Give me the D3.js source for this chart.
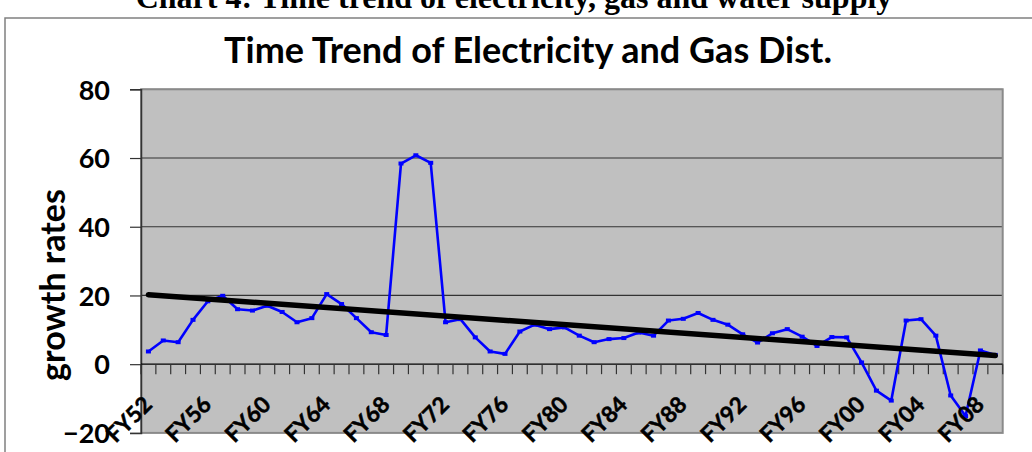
<!DOCTYPE html>
<html>
<head>
<meta charset="utf-8">
<script src="https://cdn.jsdelivr.net/npm/d3@7"></script>
<style>
  html, body { margin: 0; padding: 0; background: #ffffff; }
  svg { display: block; }
</style>
</head>
<body>
<svg id="chart" width="1032" height="452"></svg>
<script>
// ---- data ----
const categories = ["FY52","FY53","FY54","FY55","FY56","FY57","FY58","FY59","FY60","FY61",
  "FY62","FY63","FY64","FY65","FY66","FY67","FY68","FY69","FY70","FY71",
  "FY72","FY73","FY74","FY75","FY76","FY77","FY78","FY79","FY80","FY81",
  "FY82","FY83","FY84","FY85","FY86","FY87","FY88","FY89","FY90","FY91",
  "FY92","FY93","FY94","FY95","FY96","FY97","FY98","FY99","FY00","FY01",
  "FY02","FY03","FY04","FY05","FY06","FY07","FY08","FY09"];
const growthRates = [3.7, 6.9, 6.4, 12.9, 18.3, 19.9, 16.0, 15.6, 17.0, 15.2,
  12.2, 13.4, 20.4, 17.5, 13.4, 9.3, 8.5, 58.4, 60.8, 58.6,
  12.2, 13.1, 7.8, 3.7, 3.0, 9.5, 11.5, 10.2, 10.7, 8.3,
  6.4, 7.3, 7.6, 9.2, 8.3, 12.7, 13.2, 14.9, 12.9, 11.5,
  8.7, 6.3, 9.0, 10.2, 8.0, 5.3, 7.9, 7.8, 0.5, -7.7,
  -10.6, 12.7, 13.1, 8.3, -9.1, -15.1, 4.0, 2.7];
const trendEnds = [20.2, 2.5];           // linear trend value at first and last category
const xTickLabels = ["FY52","FY56","FY60","FY64","FY68","FY72","FY76","FY80","FY84","FY88","FY92","FY96","FY00","FY04","FY08"];
const yTicks = [-20, 0, 20, 40, 60, 80];
const gridValues = [20, 40, 60, 80];
const chartTitle = "Time Trend of Electricity and Gas Dist.";
const docCaption = "Chart 4: Time trend of electricity, gas and water supply";
const yAxisTitle = "growth rates";

// ---- layout ----
const svg = d3.select("#chart");
const plot = { left: 141, right: 1002.7, top: 89.3, bottom: 432.9 };

const x = d3.scaleBand().domain(categories).range([plot.left, plot.right]).padding(0);
const y = d3.scaleLinear().domain([-20, 80]).range([plot.bottom, plot.top]);
const cx = d => x(d) + x.bandwidth() / 2;

// document caption, partly above the picture as in the reference
svg.append("text")
  .attr("x", 514).attr("y", 8)
  .attr("text-anchor", "middle")
  .attr("font-family", "Liberation Serif, serif")
  .attr("font-weight", "bold")
  .attr("font-size", 32)
  .text(docCaption);

// chart frame (continues beyond picture)
svg.append("rect")
  .attr("x", 5).attr("y", 18).attr("width", 1100).attr("height", 500)
  .attr("fill", "#ffffff").attr("stroke", "#808080").attr("stroke-width", 1.5);

// title
svg.append("text")
  .attr("x", 528).attr("y", 63)
  .attr("text-anchor", "middle")
  .attr("font-family", "Lato, sans-serif")
  .attr("font-weight", "bold")
  .attr("font-size", 36)
  .text(chartTitle);

// plot background
svg.append("rect")
  .attr("x", plot.left).attr("y", plot.top)
  .attr("width", plot.right - plot.left).attr("height", plot.bottom - plot.top)
  .attr("fill", "#c0c0c0");

// gridlines
svg.append("g").selectAll("line").data(gridValues).join("line")
  .attr("x1", plot.left).attr("x2", plot.right)
  .attr("y1", d => y(d)).attr("y2", d => y(d))
  .attr("stroke", "#333333").attr("stroke-width", 1.2);

// plot border
svg.append("rect")
  .attr("x", plot.left).attr("y", plot.top)
  .attr("width", plot.right - plot.left).attr("height", plot.bottom - plot.top)
  .attr("fill", "none").attr("stroke", "#8a8a8a").attr("stroke-width", 2);

// y axis
const yAxis = d3.axisLeft(y).tickValues(yTicks).tickSize(11).tickFormat(d3.format("d"));
const gy = svg.append("g").attr("transform", `translate(${plot.left},0)`).call(yAxis);
gy.select(".domain").attr("stroke", "#333333").attr("stroke-width", 1.5);
gy.selectAll(".tick line").attr("stroke", "#333333").attr("stroke-width", 1.2);
gy.selectAll(".tick text")
  .attr("x", -31)
  .attr("dy", "0.36em")
  .attr("font-family", "Lato, sans-serif")
  .attr("font-weight", "bold")
  .attr("font-size", 27)
  .attr("fill", "#000");

// x axis at y = 0, ticks between categories
const boundaries = d3.range(categories.length + 1).map(i => plot.left + i * x.bandwidth());
const gx = svg.append("g");
gx.append("line")
  .attr("x1", plot.left).attr("x2", plot.right)
  .attr("y1", y(0)).attr("y2", y(0))
  .attr("stroke", "#000").attr("stroke-width", 1.2);
gx.selectAll("line.tk").data(boundaries).join("line").attr("class", "tk")
  .attr("x1", d => d).attr("x2", d => d)
  .attr("y1", y(0)).attr("y2", y(0) + 10)
  .attr("stroke", "#333333").attr("stroke-width", 1.2);

// data line
const line = d3.line().x((d, i) => cx(categories[i])).y(d => y(d));
svg.append("path")
  .datum(growthRates)
  .attr("d", line)
  .attr("fill", "none")
  .attr("stroke", "#0000ff")
  .attr("stroke-width", 2.6)
  .attr("stroke-linejoin", "round");

svg.append("g").selectAll("rect").data(growthRates).join("rect")
  .attr("x", (d, i) => cx(categories[i]) - 2.5)
  .attr("y", d => y(d) - 2)
  .attr("width", 5).attr("height", 4)
  .attr("fill", "#0000ff");

// trend line
svg.append("line")
  .attr("x1", cx(categories[0])).attr("y1", y(trendEnds[0]))
  .attr("x2", cx(categories[categories.length - 1])).attr("y2", y(trendEnds[1]))
  .attr("stroke", "#000").attr("stroke-width", 5.5).attr("stroke-linecap", "round");

// x tick labels
svg.append("g").selectAll("text").data(xTickLabels).join("text")
  .attr("transform", d => `translate(${cx(d) + 5},${406}) rotate(-45)`)
  .attr("text-anchor", "end")
  .attr("font-family", "Lato, sans-serif")
  .attr("font-weight", "bold")
  .attr("font-size", 22.5)
  .attr("stroke", "#000").attr("stroke-width", 0.5)
  .text(d => d);

// y axis title
svg.append("text")
  .attr("transform", `translate(65,285) rotate(-90)`)
  .attr("text-anchor", "middle")
  .attr("font-family", "Lato, sans-serif")
  .attr("font-weight", "bold")
  .attr("font-size", 34)
  .text(yAxisTitle);
</script>
</body>
</html>
